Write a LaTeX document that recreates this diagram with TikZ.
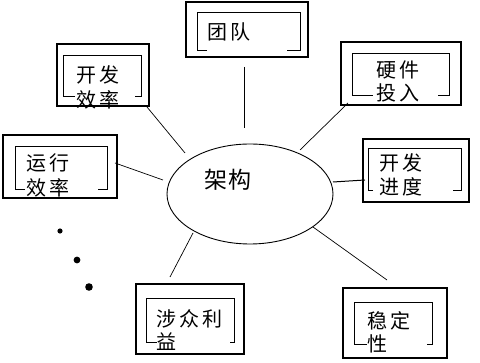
\documentclass[tikz,border=0pt]{standalone}
\usepackage{fontspec}
\newfontfamily\cjk{Noto Sans CJK SC}
\usetikzlibrary{shapes.geometric}
\newcommand\chgap{\hspace{3pt}}
\tikzset{
  outerbox/.style={draw, line width=1.1pt, inner sep=0pt},
  innerframe/.style={draw, line width=0.8pt},
  boxtext/.style={anchor=west, inner sep=0pt, font=\cjk\fontsize{20}{24}\selectfont},
  link/.style={draw, line width=0.7pt},
  dot/.style={fill=black}
}
\begin{document}
\begin{tikzpicture}[x=1pt,y=-1pt]
\useasboundingbox[fill=white] (0,0) rectangle (480,363);

% outer boxes
\node[outerbox, minimum width=92pt,  minimum height=62pt] (kfxl) at (103,75) {};
\node[outerbox, minimum width=114pt, minimum height=63pt] (yxxl) at (60,166.5) {};
\node[outerbox, minimum width=122pt, minimum height=55pt] (td)   at (247,29.5) {};
\node[outerbox, minimum width=120pt, minimum height=63pt] (yjtr) at (401,73.5) {};
\node[outerbox, minimum width=106pt, minimum height=63pt] (kfjd) at (416,170.5) {};
\node[outerbox, minimum width=108pt, minimum height=70pt] (szly) at (190,319) {};
\node[outerbox, minimum width=104pt, minimum height=70pt] (wdx)  at (395,323) {};

% inner frames
\draw[innerframe] (75,96) -| (63,55) -| (141,96) -- (135,96);
\draw[innerframe] (25,189) -| (15,146) -| (107,189) -- (98,189);
\draw[innerframe] (207,50) -| (197,12) -| (300,50) -- (287,50);
\draw[innerframe] (373,95) -| (352,53) -| (449,95) -- (438,95);
\draw[innerframe] (373,190) -| (368,148) -| (461,190) -- (453,190);
\draw[innerframe] (157,342) -| (146,298) -| (234,342) -- (230,342);
\draw[innerframe] (367,344) -| (354,302) -| (432,344) -- (427,344);

% texts
\node[boxtext] (t1a) at (76,75)  {开\chgap 发};
\node[boxtext] (t1b) at (76,100) {效\chgap 率};
\node[boxtext] (t2a) at (26,163) {运\chgap 行};
\node[boxtext] (t2b) at (26,188) {效\chgap 率};
\node[boxtext] (t3a) at (207,32) {团\chgap 队};
\node[boxtext] (t4a) at (376,70) {硬\chgap 件};
\node[boxtext] (t4b) at (376,93) {投\chgap 入};
\node[boxtext] (t5a) at (379,163) {开\chgap 发};
\node[boxtext] (t5b) at (379,187) {进\chgap 度};
\node[boxtext] (t6a) at (156,319) {涉\chgap 众\chgap 利};
\node[boxtext] (t6b) at (156,342) {益};
\node[boxtext] (t7a) at (367,321) {稳\chgap 定};
\node[boxtext] (t7b) at (367,344) {性};

% centre ellipse
\node[ellipse, draw, line width=0.9pt, minimum width=166pt, minimum height=100pt, inner sep=0pt] (jg) at (250,194) {};
\node[inner sep=0pt, font=\cjk\fontsize{23}{26}\selectfont] (jgt) at (228,180) {架\hspace{1pt}构};

% connector end points
\coordinate (c1a) at (147,107); \coordinate (c1b) at (185,153);
\coordinate (c2a) at (115,163); \coordinate (c2b) at (163,180);
\coordinate (c3a) at (244,67);  \coordinate (c3b) at (244,128);
\coordinate (c4a) at (348,103); \coordinate (c4b) at (300,150);
\coordinate (c5a) at (365,180); \coordinate (c5b) at (333,182);
\coordinate (c6a) at (193,233); \coordinate (c6b) at (170,277);
\coordinate (c7a) at (313,227); \coordinate (c7b) at (387,280);

\draw[link] (c1a) -- (c1b);
\draw[link] (c2a) -- (c2b);
\draw[link, line width=1pt] (c3a) -- (c3b);
\draw[link] (c4a) -- (c4b);
\draw[link, line width=1pt] (c5a) -- (c5b);
\draw[link] (c6a) -- (c6b);
\draw[link] (c7a) -- (c7b);

% dots
\fill[dot] (60,231) circle (2.6pt);
\fill[dot] (77,260) circle (3.4pt);
\fill[dot] (89,287) circle (3.8pt);
\end{tikzpicture}
\end{document}
